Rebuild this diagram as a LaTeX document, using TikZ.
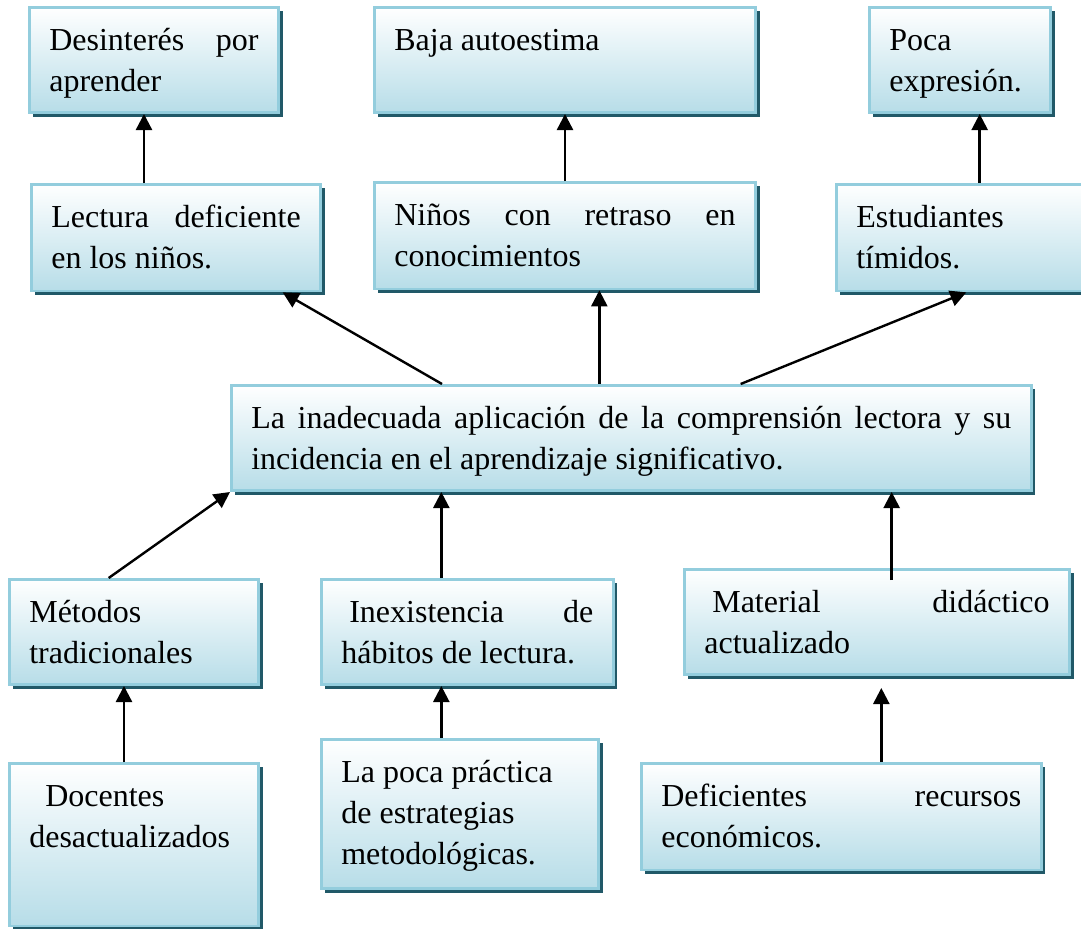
\documentclass[tikz,border=0pt]{standalone}
\usepackage{fontspec}
\setmainfont{Liberation Serif}
\usepackage{xcolor}
\usetikzlibrary{arrows.meta, positioning, shadows}

\definecolor{bordecaja}{HTML}{93CDDD}
\definecolor{fondocaja}{HTML}{B7DDE8}
\definecolor{sombracaja}{HTML}{215968}

\hyphenpenalty=10000
\exhyphenpenalty=10000
\tolerance=10000
\hbadness=10000
\newcommand{\caja}[3]{\parbox[t][#2][t]{#1}{\rule{0pt}{24pt}#3}}

\begin{document}
\begin{tikzpicture}[
    x=0.75pt, y=-0.75pt,
    font=\fontsize{24}{31}\selectfont,
    box/.style={rectangle, draw=bordecaja, line width=2pt, top color=white, bottom color=fondocaja, anchor=north west, inner xsep=15pt, inner ysep=8pt, drop shadow={shadow xshift=3pt, shadow yshift=-3pt, fill=sombracaja, opacity=1}},
    arrow/.style={line width=1.8pt, ->, >={Triangle[length=12pt,width=12pt]}, shorten >=0pt}
]
\useasboundingbox (0,0) rectangle (1081,928);

% efectos
\node[box] (desinteres) at (28,6) {\caja{157pt}{63pt}{Desinterés por aprender}};
\node[box] (autoestima) at (373,6) {\caja{256pt}{63pt}{Baja autoestima}};
\node[box] (expresion) at (868,6) {\caja{106pt}{63pt}{Poca expresión.}};

\node[box] (lectura) at (30,183) {\caja{187pt}{64pt}{Lectura deficiente en los niños.}};
\node[box] (retraso) at (373,181) {\caja{256pt}{64pt}{Niños con retraso en conocimientos}};
\node[box] (timidos) at (835,183) {\caja{165pt}{64pt}{Estudiantes tímidos.}};

% problema central
\node[box] (problema) at (230,384) {\caja{570pt}{63pt}{La inadecuada aplicación de la comprensión lectora y su incidencia en el aprendizaje significativo.}};

% causas
\node[box] (metodos) at (8,578) {\caja{157pt}{63pt}{Métodos tradicionales}};
\node[box] (habitos) at (320,578) {\caja{189pt}{63pt}{\hspace*{6pt}Inexistencia de hábitos de lectura.}};
\node[box] (material) at (683,568) {\caja{259pt}{63pt}{\hspace*{6pt}Material didáctico actualizado}};

\node[box] (docentes) at (8,762) {\caja{157pt}{106pt}{\hspace*{12pt}Docentes desactualizados}};
\node[box] (practica) at (320,738) {\caja{178pt}{96pt}{\raggedright La poca práctica de estrategias metodológicas.}};
\node[box] (recursos) at (640,762) {\caja{270pt}{64pt}{Deficientes recursos económicos.}};

% flechas
\draw[arrow] ([xshift=-24pt]lectura.north) -- ([xshift=-24pt]lectura.north |- desinteres.south);
\draw[arrow] (retraso.north) -- (autoestima.south);
\draw[arrow] ([xshift=10pt]timidos.north) -- ([xshift=10pt]timidos.north |- expresion.south);

\draw[arrow] ([xshift=-142pt]problema.north) -- ([xshift=80pt]lectura.south);
\draw[arrow] ([xshift=-24pt]problema.north) -- ([xshift=-24pt]problema.north |- retraso.south);
\draw[arrow] ([xshift=82pt]problema.north) -- (timidos.south);

\draw[arrow] ([xshift=-19pt]metodos.north) -- (problema.south west);
\draw[arrow] ([xshift=-19.5pt]habitos.north) -- ([xshift=-19.5pt]habitos.north |- problema.south);
\draw[arrow] ([xshift=11pt,yshift=-9pt]material.north) -- ([xshift=11pt]material.north |- problema.south);

\draw[arrow] ([xshift=-7.5pt]docentes.north) -- ([xshift=-7.5pt]docentes.north |- metodos.south);
\draw[arrow] ([xshift=-14pt]practica.north) -- ([xshift=-14pt]practica.north |- habitos.south);
\draw[arrow, shorten >=9pt] ([xshift=30pt]recursos.north) -- ([xshift=30pt]recursos.north |- material.south);
\end{tikzpicture}
\end{document}
